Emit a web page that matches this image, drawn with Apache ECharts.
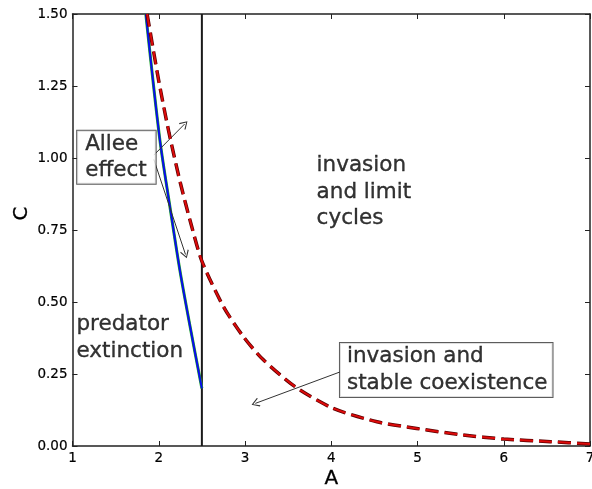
<!DOCTYPE html>
<html><head><meta charset="utf-8">
<script src="https://cdn.jsdelivr.net/npm/echarts@6/dist/echarts.min.js"></script>
<style>html,body{margin:0;padding:0;background:#fff}#c{width:592px;height:489px}</style>
</head><body><div id="c"></div>
<script>
// ---- data ----
const xTickValues = [1, 2, 3, 4, 5, 6, 7];
const yTickLabels = ['0.00', '0.25', '0.50', '0.75', '1.00', '1.25', '1.50'];
const alleeA = [1.85, 2.01, 2.13, 2.245, 2.36, 2.5];
const alleeC = [1.5, 1.07, 0.83, 0.61, 0.42, 0.2];
const boundaryA = [1.865, 2.0, 2.12, 2.25, 2.375, 2.5, 2.75, 2.98, 3.21, 3.58, 4.02, 4.53, 4.99, 5.53, 6.0, 6.54, 7.0];
const boundaryC = [1.5, 1.268, 1.086, 0.914, 0.77, 0.642, 0.484, 0.38, 0.30, 0.206, 0.131, 0.084, 0.061, 0.038, 0.024, 0.015, 0.007];
const thresholdA = 2.5;
const thresholdC = [0, 1.5];
const regionTexts = ['invasion\nand limit\ncycles', 'predator\nextinction'];
const boxTexts = ['Allee\neffect', 'invasion and\nstable coexistence'];

// ---- annotation anchors (data coords) ----
const regionAnchors = [[3.83, 1.019], [1.046, 0.467]];
const boxAnchors = [[1.054, 1.095], [4.101, 0.358]];
const arrows = [
  [[1.943, 1.010], [2.30, 1.118]],
  [[1.943, 0.995], [2.31, 0.665]],
  [[4.101, 0.257], [3.12, 0.148]]
];

const FONT = 'DejaVu Sans';
const zip = (a, b) => a.map((v, i) => [v, b[i]]);
const axisColor = '#222';
const heavy = {textBorderColor: '#000', textBorderWidth: 0.35};
const openArrow = 'path://M5,0 L10,9 L9,10 L5,2.2 L1,10 L0,9 Z';

const baseX = {
  type: 'value', min: 1, max: 7, interval: 1,
  splitLine: {show: false},
  axisLine: {show: true, onZero: false, lineStyle: {color: axisColor, width: 1.5}},
  axisTick: {show: true, inside: true, length: 5, lineStyle: {color: axisColor, width: 1}},
};
const baseY = {
  type: 'value', min: 0, max: 1.5, interval: 0.25,
  splitLine: {show: false},
  axisLine: {show: true, onZero: false, lineStyle: {color: axisColor, width: 1.5}},
  axisTick: {show: true, inside: true, length: 5, lineStyle: {color: axisColor, width: 1}},
};

const option = {
  backgroundColor: '#fff',
  animation: false,
  grid: {left: 72.5, right: 2, top: 14, bottom: 43, containLabel: false, outerBoundsMode: 'none'},
  xAxis: [
    Object.assign({}, baseX, {
      position: 'bottom',
      axisLabel: {show: true, fontSize: 13.5, color: '#000', fontFamily: FONT, margin: 5,
        showMinLabel: true, showMaxLabel: true, textBorderColor: '#000', textBorderWidth: 0.2,
        formatter: v => String(xTickValues[Math.round(v - 1)])},
      name: 'A', nameLocation: 'middle', nameGap: 23, nameMoveOverlap: false,
      nameTextStyle: {fontSize: 20, color: '#000', fontFamily: FONT, textBorderColor: '#000', textBorderWidth: 0.3}
    }),
    Object.assign({}, baseX, {position: 'top', axisLabel: {show: false}})
  ],
  yAxis: [
    Object.assign({}, baseY, {
      position: 'left',
      axisLabel: {show: true, fontSize: 13.5, color: '#000', fontFamily: FONT, margin: 5,
        showMinLabel: true, showMaxLabel: true, textBorderColor: '#000', textBorderWidth: 0.2,
        formatter: v => yTickLabels[Math.round(v / 0.25)]},
      name: 'C', nameLocation: 'middle', nameGap: 41, nameMoveOverlap: false,
      nameTextStyle: {fontSize: 20, color: '#000', fontFamily: FONT, padding: [0, 0, 0, 33], textBorderColor: '#000', textBorderWidth: 0.3}
    }),
    Object.assign({}, baseY, {position: 'right', axisLabel: {show: false}})
  ],
  series: [
    {
      type: 'line', name: 'threshold', xAxisIndex: 0, yAxisIndex: 0,
      data: thresholdC.map(c => [thresholdA, c]),
      symbol: 'none', lineStyle: {color: '#1a1a1a', width: 2}, z: 2
    },
    {
      type: 'line', name: 'allee-under', data: zip(alleeA, alleeC), smooth: 0.3,
      symbol: 'none', lineStyle: {color: '#22aa22', width: 3}, z: 3
    },
    {
      type: 'line', name: 'allee', data: zip(alleeA, alleeC), smooth: 0.3,
      symbol: 'none', lineStyle: {color: '#0a0aee', width: 2}, z: 4
    },
    {
      type: 'line', name: 'boundary-under', data: zip(boundaryA, boundaryC), smooth: 0.25,
      symbol: 'none', lineStyle: {color: '#5a0000', width: 3.5, type: [13, 6]}, z: 5
    },
    {
      type: 'line', name: 'boundary', data: zip(boundaryA, boundaryC), smooth: 0.25,
      symbol: 'none', lineStyle: {color: '#dd0a0a', width: 2, type: [13, 6]}, z: 6
    },
    {
      type: 'scatter', name: 'annotations', symbolSize: 0, silent: true, z: 10,
      data: [
        ...regionTexts.map((t, i) => ({
          value: regionAnchors[i],
          label: Object.assign({show: true, formatter: t, position: [0, 0], align: 'left', verticalAlign: 'top',
            fontSize: 21.5, lineHeight: 26.5, fontFamily: FONT, color: '#000'}, heavy)
        })),
        ...boxTexts.map((t, i) => ({
          value: boxAnchors[i],
          label: Object.assign({show: true, formatter: t, position: [0, 0], align: 'left', verticalAlign: 'top',
            fontSize: 21.5, lineHeight: i === 0 ? 26 : 27, fontFamily: FONT, color: '#000',
            backgroundColor: '#fff', borderColor: '#333', borderWidth: 1,
            padding: i === 0 ? [1, 9, 0, 8] : [0, 5, 0, 7]}, heavy)
        }))
      ],
      markLine: {
        silent: true, animation: false,
        symbol: ['none', openArrow], symbolSize: [9, 8],
        label: {show: false},
        itemStyle: {color: '#333'},
        lineStyle: {color: '#333', width: 1, type: 'solid'},
        data: arrows.map(a => [{coord: a[0]}, {coord: a[1]}])
      }
    }
  ]
};

const chart = echarts.init(document.getElementById('c'), null, {renderer: 'canvas'});
chart.setOption(option);
</script>
</body></html>
